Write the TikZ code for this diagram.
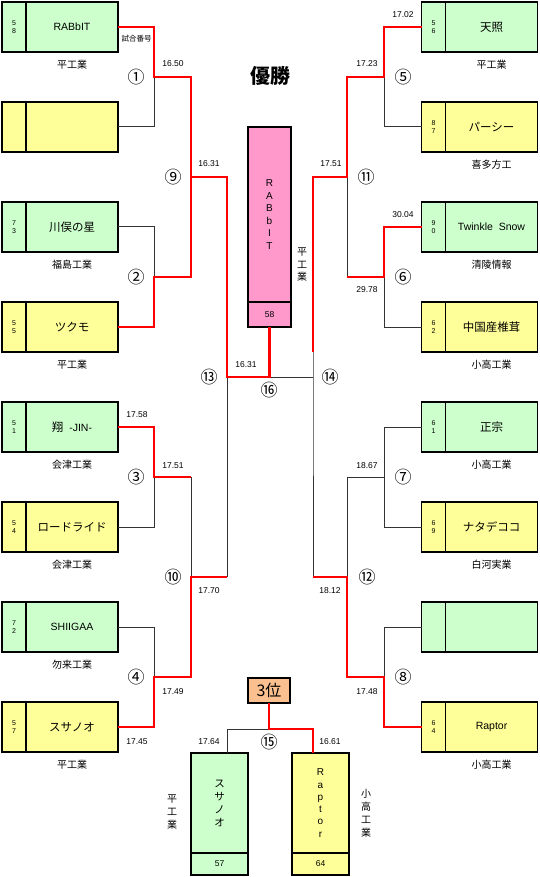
\documentclass[tikz,border=0pt]{standalone}
\usepackage{fontspec}
\setmainfont{Liberation Sans}
\newfontfamily\jp{Noto Sans CJK JP}
\usetikzlibrary{positioning}
\definecolor{teamgreen}{RGB}{204,255,204}
\definecolor{teamyellow}{RGB}{255,255,153}
\definecolor{champpink}{RGB}{255,153,204}
\definecolor{thirdorange}{RGB}{250,192,143}
\definecolor{losegray}{RGB}{51,51,51}
\begin{document}
\begin{tikzpicture}[x=1pt, y=-1pt,
  every node/.style={inner sep=0pt, outer sep=0pt},
  numbox/.style={draw=black, line width=1.1pt, minimum width=24pt, minimum height=50pt,
    align=center, font=\fontsize{7}{7.5}\selectfont},
  namebox/.style={draw=black, line width=1.1pt, minimum width=92pt, minimum height=50pt,
    font=\fontsize{10.5}{12}\selectfont},
  jpname/.style={font=\jp\fontsize{11.5}{12}\selectfont},
  school/.style={font=\jp\fontsize{10}{11}\selectfont},
  score/.style={font=\fontsize{8.5}{10}\selectfont},
  matchno/.style={font=\jp\fontsize{17}{17}\selectfont},
  tallbox/.style={draw=black, line width=1.1pt, align=center},
  win/.style={red, line width=2.5pt},
  lose/.style={losegray, line width=1pt}]
  \useasboundingbox (0,0) rectangle (540,877);

  % left side
  \node[numbox, fill=teamgreen] (L1n) at (14,27) {5\\8};
  \node[namebox, fill=teamgreen, right=0pt of L1n] (L1) {RABbIT};
  \node[numbox, fill=teamyellow] (L2n) at (14,127) {};
  \node[namebox, fill=teamyellow, right=0pt of L2n] (L2) {};
  \node[numbox, fill=teamgreen] (L3n) at (14,227) {7\\3};
  \node[namebox, jpname, fill=teamgreen, right=0pt of L3n] (L3) {川俣の星};
  \node[numbox, fill=teamyellow] (L4n) at (14,327) {5\\5};
  \node[namebox, jpname, fill=teamyellow, right=0pt of L4n] (L4) {ツクモ};
  \node[numbox, fill=teamgreen] (L5n) at (14,427) {5\\1};
  \node[namebox, fill=teamgreen, right=0pt of L5n] (L5) {{\jp\fontsize{11.5}{12}\selectfont 翔}\ \ -JIN-};
  \node[numbox, fill=teamyellow] (L6n) at (14,527) {5\\4};
  \node[namebox, jpname, fill=teamyellow, right=0pt of L6n] (L6) {ロードライド};
  \node[numbox, fill=teamgreen] (L7n) at (14,627) {7\\2};
  \node[namebox, fill=teamgreen, right=0pt of L7n] (L7) {SHIIGAA};
  \node[numbox, fill=teamyellow] (L8n) at (14,727) {5\\7};
  \node[namebox, jpname, fill=teamyellow, right=0pt of L8n] (L8) {スサノオ};

  \node[school, below=8pt of L1] (L1s) {平工業};
  \node[school, below=8pt of L3] (L3s) {福島工業};
  \node[school, below=8pt of L4] (L4s) {平工業};
  \node[school, below=8pt of L5] (L5s) {会津工業};
  \node[school, below=8pt of L6] (L6s) {会津工業};
  \node[school, below=8pt of L7] (L7s) {勿来工業};
  \node[school, below=8pt of L8] (L8s) {平工業};

  % right side
  \node[numbox, fill=teamgreen] (R1n) at (433.5,27) {5\\6};
  \node[namebox, jpname, fill=teamgreen, right=0pt of R1n] (R1) {天照};
  \node[numbox, fill=teamyellow] (R2n) at (433.5,127) {8\\7};
  \node[namebox, jpname, fill=teamyellow, right=0pt of R2n] (R2) {パーシー};
  \node[numbox, fill=teamgreen] (R3n) at (433.5,227) {9\\0};
  \node[namebox, fill=teamgreen, right=0pt of R3n] (R3) {Twinkle\ \ Snow};
  \node[numbox, fill=teamyellow] (R4n) at (433.5,327) {6\\2};
  \node[namebox, jpname, fill=teamyellow, right=0pt of R4n] (R4) {中国産椎茸};
  \node[numbox, fill=teamgreen] (R5n) at (433.5,427) {6\\1};
  \node[namebox, jpname, fill=teamgreen, right=0pt of R5n] (R5) {正宗};
  \node[numbox, fill=teamyellow] (R6n) at (433.5,527) {6\\9};
  \node[namebox, jpname, fill=teamyellow, right=0pt of R6n] (R6) {ナタデココ};
  \node[numbox, fill=teamgreen] (R7n) at (433.5,627) {};
  \node[namebox, fill=teamgreen, right=0pt of R7n] (R7) {};
  \node[numbox, fill=teamyellow] (R8n) at (433.5,727) {6\\4};
  \node[namebox, fill=teamyellow, right=0pt of R8n] (R8) {Raptor};

  \node[school, below=8pt of R1] (R1s) {平工業};
  \node[school, below=8pt of R2] (R2s) {喜多方工};
  \node[school, below=8pt of R3] (R3s) {清陵情報};
  \node[school, below=8pt of R4] (R4s) {小高工業};
  \node[school, below=8pt of R5] (R5s) {小高工業};
  \node[school, below=8pt of R6] (R6s) {白河実業};
  \node[school, below=8pt of R8] (R8s) {小高工業};

  % center
  \node[font=\jp\bfseries\fontsize{20}{20}\selectfont] (title) at (270,76) {優勝};
  \node[tallbox, fill=champpink, minimum width=43pt, minimum height=175pt,
    font=\fontsize{10}{12.6}\selectfont] (champ) at (269.5,214.5) {R\\A\\B\\b\\I\\T};
  \node[tallbox, fill=champpink, minimum width=43pt, minimum height=25pt,
    font=\fontsize{8.5}{10}\selectfont, below=0pt of champ] (champn) {58};
  \node[school, align=center, font=\jp\fontsize{10}{12.5}\selectfont] (champs) at (302,265) {平\\工\\業};

  \node[tallbox, fill=thirdorange, minimum width=42pt, minimum height=25pt,
    font=\jp\fontsize{16}{16}\selectfont] (third) at (269,690.5) {3位};
  \node[tallbox, fill=teamgreen, minimum width=57pt, minimum height=100pt,
    font=\jp\fontsize{10.5}{13}\selectfont] (T1) at (219.5,803) {ス\\サ\\ノ\\オ};
  \node[tallbox, fill=teamgreen, minimum width=57pt, minimum height=22pt,
    font=\fontsize{8.5}{10}\selectfont, below=0pt of T1] (T1n) {57};
  \node[tallbox, fill=teamyellow, minimum width=57pt, minimum height=100pt,
    font=\fontsize{10}{12.3}\selectfont] (T2) at (320.5,803) {R\\a\\p\\t\\o\\r};
  \node[tallbox, fill=teamyellow, minimum width=57pt, minimum height=22pt,
    font=\fontsize{8.5}{10}\selectfont, below=0pt of T2] (T2n) {64};
  \node[align=center, font=\jp\fontsize{10}{13}\selectfont] (T1s) at (172,812) {平\\工\\業};
  \node[align=center, font=\jp\fontsize{10}{13}\selectfont] (T2s) at (366,813) {小\\高\\工\\業};

  % junctions
  \coordinate (m1) at (154,77);
  \coordinate (m2) at (154,277);
  \coordinate (m3) at (154,477);
  \coordinate (m4) at (154,677);
  \coordinate (m9) at (191,177);
  \coordinate (m10) at (191,577);
  \coordinate (m13) at (227,377);
  \coordinate (m5) at (384,77);
  \coordinate (m6) at (384,277);
  \coordinate (m7) at (384,477);
  \coordinate (m8) at (384,677);
  \coordinate (m11) at (347,177);
  \coordinate (m12) at (347,577);
  \coordinate (m14) at (313,377);
  \coordinate (r14) at (313,352);
  \coordinate (m15) at (269,729);

  % lost
  \draw[lose] (L2.east) -| (m1);
  \draw[lose] (L3.east) -| (m2);
  \draw[lose] (L6.east) -| (m3);
  \draw[lose] (L7.east) -| (m4);
  \draw[lose] (m3 -| m10) -- (m10);
  \draw[lose] (m10 -| m13) -- (m13) -- (m14);
  \draw[lose] (R2n.west) -| (m5);
  \draw[lose] (R4n.west) -| (m6);
  \draw[lose] (m6 -| m11) -- (m11);
  \draw[lose] (R5n.west) -| (m7) -| (m12);
  \draw[lose] (R6n.west) -| (m7);
  \draw[lose] (R7n.west) -| (m8);
  \draw[lose] (r14) -- (m14) -- (m12 -| m14);
  \draw[lose] (m15) -| (m13 |- T1.north);

  % won
  \draw[win] (L1.east) -| (m1) -| (m9) -| (m13) -- (m13 -| champn.south) -- (champn.south);
  \draw[win] (L4.east) -| (m2) -| (m9);
  \draw[win] (L5.east) -| (m3) -- (m3 -| m10);
  \draw[win] (L8.east) -| (m4) -| (m10) -- (m10 -| m13);
  \draw[win] (R1n.west) -| (m5) -| (m11) -| (r14);
  \draw[win] (R3n.west) -| (m6) -- (m6 -| m11);
  \draw[win] (R8n.west) -| (m8) -| (m12) -- (m12 -| m14);
  \draw[win] (third.south) -- (m15) -| (m14 |- T2.north);

  % times
  \node[font=\jp\fontsize{7.5}{8}\selectfont] (lbl) at (136.5,39) {試合番号};
  \node[score] (t1) at (173,64) {16.50};
  \node[score] (t2) at (209,164) {16.31};
  \node[score] (t3) at (246,365) {16.31};
  \node[score] (t4) at (137,415) {17.58};
  \node[score] (t5) at (173,466) {17.51};
  \node[score] (t6) at (209,591) {17.70};
  \node[score] (t7) at (173,692) {17.49};
  \node[score] (t8) at (137,742) {17.45};
  \node[score] (t9) at (209,742) {17.64};
  \node[score] (t10) at (330,742) {16.61};
  \node[score] (t11) at (403,15) {17.02};
  \node[score] (t12) at (367,64) {17.23};
  \node[score] (t13) at (331,164) {17.51};
  \node[score] (t14) at (403,215) {30.04};
  \node[score] (t15) at (367,290) {29.78};
  \node[score] (t16) at (367,466) {18.67};
  \node[score] (t17) at (330,591) {18.12};
  \node[score] (t18) at (367,692) {17.48};

  % match numbers
  \node[matchno] (g1) at (136,77) {①};
  \node[matchno] (g2) at (136,277) {②};
  \node[matchno] (g3) at (136,477) {③};
  \node[matchno] (g4) at (136,677) {④};
  \node[matchno] (g5) at (403,77) {⑤};
  \node[matchno] (g6) at (403,277) {⑥};
  \node[matchno] (g7) at (403,477) {⑦};
  \node[matchno] (g8) at (403,677) {⑧};
  \node[matchno] (g9) at (173,177) {⑨};
  \node[matchno] (g10) at (173,577) {⑩};
  \node[matchno] (g11) at (366,177) {⑪};
  \node[matchno] (g12) at (367,577) {⑫};
  \node[matchno] (g13) at (209,377) {⑬};
  \node[matchno] (g14) at (330,377) {⑭};
  \node[matchno] (g15) at (269,742) {⑮};
  \node[matchno] (g16) at (269,390) {⑯};
\end{tikzpicture}
\end{document}
